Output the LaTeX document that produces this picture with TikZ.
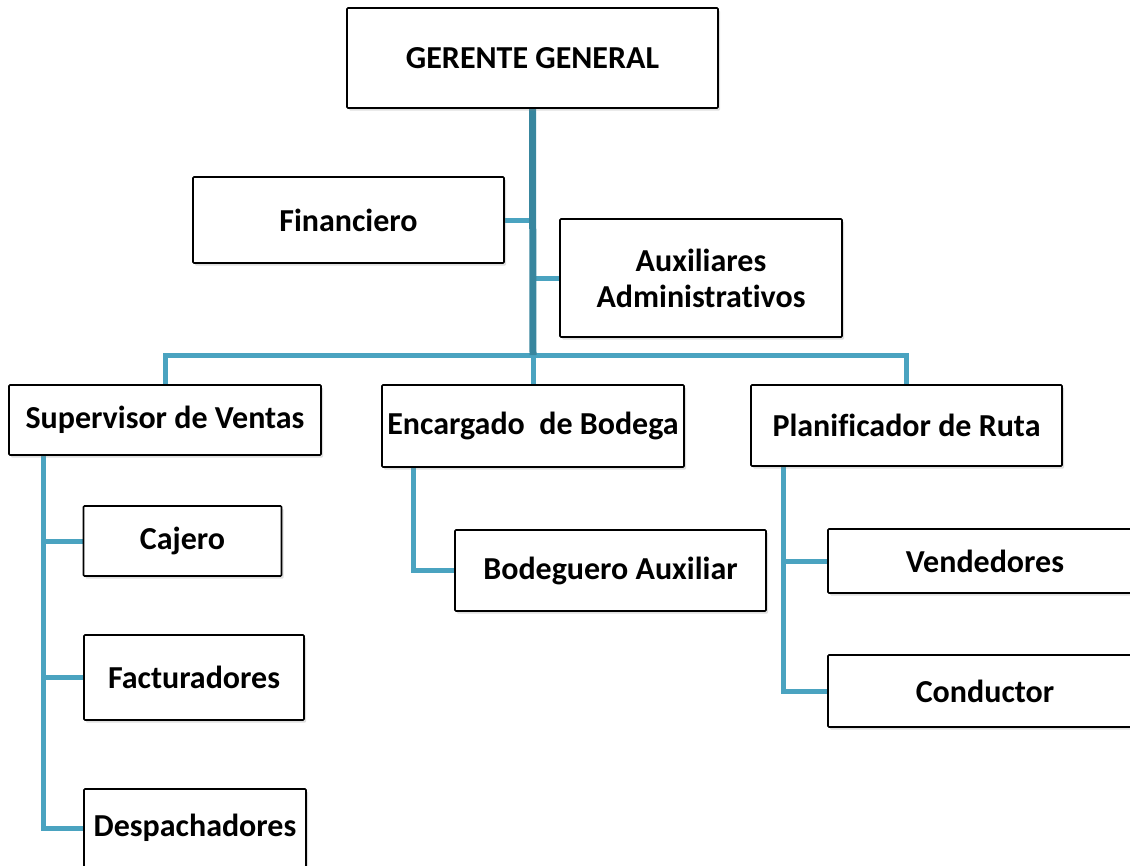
\documentclass[tikz,border=0pt]{standalone}
\usepackage{fontspec}
\setmainfont[Ligatures=NoCommon]{Carlito}
\usetikzlibrary{shadows,backgrounds}
\definecolor{trunkc}{RGB}{56,134,158}
\definecolor{branchc}{RGB}{74,163,192}
\tikzset{
  box/.style={draw=black, line width=1.6pt, fill=white, rounded corners=1pt,
    align=center, inner sep=0pt,
    font=\fontsize{32}{36}\selectfont\bfseries,
    drop shadow={shadow xshift=2pt, shadow yshift=-2.5pt, opacity=0.25}},
  trunk/.style={draw=trunkc, line width=7pt},
  branch/.style={draw=branchc, line width=5pt},
}
\begin{document}
\begin{tikzpicture}[x=1pt,y=-1pt]
\useasboundingbox (0,0) rectangle (1130,865);
\node[box, minimum width=371pt, minimum height=100pt] (gg) at (532.5,58) {GERENTE GENERAL};
\node[box, minimum width=311pt, minimum height=86pt] (fin) at (348.5,220) {Financiero};
\node[box, minimum width=282pt, minimum height=118pt] (aux) at (701,278) {Auxiliares\\Administrativos};
\node[box, minimum width=312pt, minimum height=70pt] (sup) at (165,420) {Supervisor de Ventas};
\node[box, minimum width=302pt, minimum height=82pt] (enc) at (533,426) {Encargado\ \ de Bodega};
\node[box, minimum width=311pt, minimum height=81pt] (pla) at (906.5,425.5) {Planificador de Ruta};
\node[box, minimum width=198pt, minimum height=70pt] (caj) at (182.5,541) {Cajero};
\node[box, minimum width=220pt, minimum height=85pt] (fac) at (194,677.5) {Facturadores};
\node[box, minimum width=222pt, minimum height=78pt] (des) at (195,828) {Despachadores};
\node[box, minimum width=311pt, minimum height=81pt] (bod) at (610.5,570.5) {Bodeguero Auxiliar};
\node[box, minimum width=314pt, minimum height=64pt] (ven) at (985,561) {Vendedores};
\node[box, minimum width=314pt, minimum height=72pt] (con) at (985,691) {Conductor};
\coordinate (bar) at (533,355);
\coordinate (sv) at (43,455);
\coordinate (ev) at (413,467);
\coordinate (pv) at (783,466);
\begin{pgfonlayer}{background}
\draw[branch] (fin.east) -- (fin.east -| bar);
\draw[branch] (aux.west) -- (aux.west -| bar);
\draw[branch] (sup.north) |- (bar) -| (pla.north);
\draw[branch] (bar) -- (enc.north);
\draw[trunk] (gg.south) -- (bar);
\draw[branch] (sv) |- (des.west);
\draw[branch] (caj.west) -- (caj.west -| sv);
\draw[branch] (fac.west) -- (fac.west -| sv);
\draw[branch] (ev) |- (bod.west);
\draw[branch] (pv) |- (con.west);
\draw[branch] (ven.west) -- (ven.west -| pv);
\end{pgfonlayer}
\end{tikzpicture}
\end{document}
